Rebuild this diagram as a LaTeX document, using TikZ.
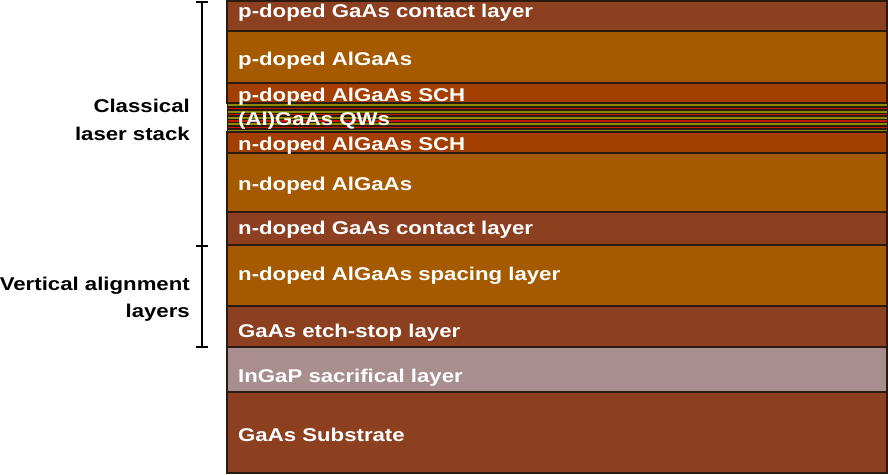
\documentclass[tikz,border=0pt]{standalone}
\usepackage{fontspec}
\setmainfont[FakeStretch=1.2]{Liberation Sans}
\definecolor{contact}{HTML}{8C4020}
\definecolor{algaas}{HTML}{A65A00}
\definecolor{sch}{HTML}{A33F00}
\definecolor{ingap}{HTML}{A88E8E}
\definecolor{qwolive}{HTML}{8C8C00}
\definecolor{qwred}{HTML}{C41800}
\definecolor{edge}{HTML}{2A1A10}
\begin{document}
\begin{tikzpicture}[x=1pt,y=-1pt,
  layer/.style={draw=edge,line width=1.3pt},
  lbl/.style={anchor=base west,inner sep=0pt,text=white,font=\fontsize{18.5}{18.5}\selectfont\bfseries},
  side/.style={anchor=base east,inner sep=0pt,text=black,font=\fontsize{18.5}{18.5}\selectfont\bfseries},
  brk/.style={line width=2.8pt}]
\useasboundingbox (0,0) rectangle (888,474);
% layers
\path[layer,fill=contact] (227,1) rectangle (887,31);
\path[layer,fill=algaas] (227,31) rectangle (887,83);
\path[layer,fill=sch] (227,83) rectangle (887,103);
\fill[edge] (227,103) rectangle (887,132);
\foreach \y in {104.3,110.6,116.9,123.2,129.5}{\fill[qwolive] (227,\y) rectangle (887,\y+2);}
\foreach \y in {107.7,114.0,120.3,126.6}{\fill[qwred] (227,\y) rectangle (887,\y+1.3);}
\draw[edge,line width=1pt] (227,103) rectangle (887,132);
\path[layer,fill=sch] (227,132) rectangle (887,153);
\path[layer,fill=algaas] (227,153) rectangle (887,212);
\path[layer,fill=contact] (227,212) rectangle (887,245);
\path[layer,fill=algaas] (227,245) rectangle (887,306);
\path[layer,fill=contact] (227,306) rectangle (887,347);
\path[layer,fill=ingap] (227,347) rectangle (887,392);
\path[layer,fill=contact] (227,392) rectangle (887,473);
% labels
\node[lbl] (l1) at (238,17) {p-doped GaAs contact layer};
\node[lbl] (l2) at (238,65) {p-doped AlGaAs};
\node[lbl] (l3) at (238,101) {p-doped AlGaAs SCH};
\node[lbl] (l4) at (238,125) {(Al)GaAs QWs};
\node[lbl] (l5) at (238,150) {n-doped AlGaAs SCH};
\node[lbl] (l6) at (238,190) {n-doped AlGaAs};
\node[lbl] (l7) at (238,234) {n-doped GaAs contact layer};
\node[lbl] (l8) at (238,280) {n-doped AlGaAs spacing layer};
\node[lbl] (l9) at (238,337) {GaAs etch-stop layer};
\node[lbl] (l10) at (238,382) {InGaP sacrifical layer};
\node[lbl] (l11) at (238,441) {GaAs Substrate};
% bracket
\coordinate (bt) at (202,2);
\coordinate (bm) at (202,246);
\coordinate (bb) at (202,347);
\draw[brk] (bt) -- (bb);
\draw[brk] ([xshift=-6pt]bt) -- ([xshift=6pt]bt);
\draw[brk] ([xshift=-6pt]bm) -- ([xshift=6pt]bm);
\draw[brk] ([xshift=-6pt]bb) -- ([xshift=6pt]bb);
\node[side] (s1) at (190,112) {Classical};
\node[side] (s2) at (190,140) {laser stack};
\node[side] (s3) at (190,290) {Vertical alignment};
\node[side] (s4) at (190,317) {layers};
\end{tikzpicture}
\end{document}
